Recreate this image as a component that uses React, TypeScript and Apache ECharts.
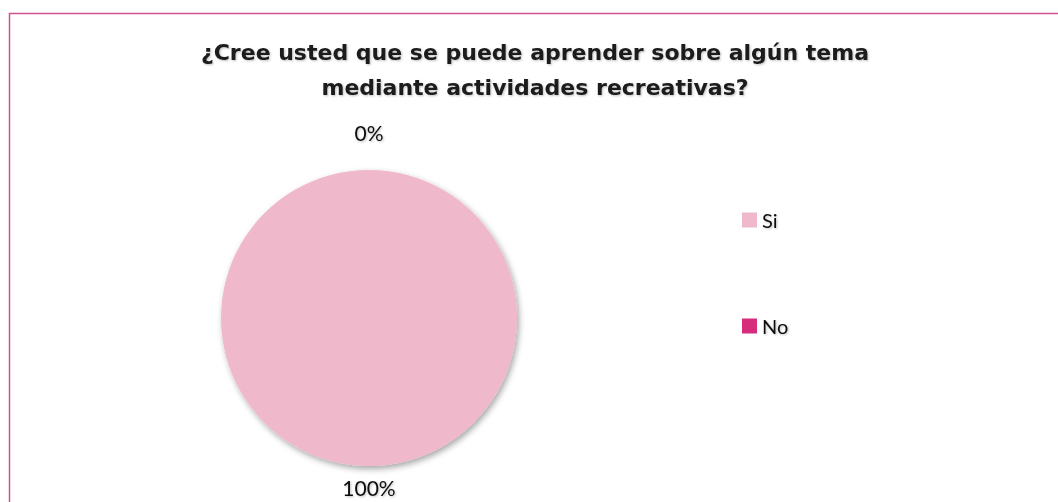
import React, { useEffect, useRef } from "react";
import * as echarts from "echarts";

const titleLines = [
  "¿Cree usted que se puede aprender sobre algún tema",
  "mediante actividades recreativas?",
];
const categories = ["Si", "No"];
const values = [100, 0];
const colors = ["#F0B8CB", "#D62C7B"];

export default function App() {
  const ref = useRef<HTMLDivElement>(null);
  useEffect(() => {
    if (!ref.current) return;
    const chart = echarts.init(ref.current, undefined, { renderer: "svg" });
    const total = values.reduce((a, b) => a + b, 0);
    chart.setOption({
      animation: false,
      backgroundColor: "#ffffff",
      title: {
        text: titleLines.join("\n"),
        left: 530,
        textAlign: "center",
        top: 30,
        textStyle: {
          fontFamily: "DejaVu Sans",
          fontWeight: "bold",
          fontSize: 22,
          lineHeight: 35,
          color: "#1a1a1a",
          textShadowColor: "rgba(0,0,0,0.25)",
          textShadowBlur: 2,
          textShadowOffsetX: 1,
          textShadowOffsetY: 1,
        },
      },
      legend: {
        orient: "vertical",
        left: 737,
        top: 205,
        itemGap: 86,
        itemWidth: 15,
        itemHeight: 15,
        icon: "rect",
        data: categories,
        textStyle: {
          fontFamily: "Lato",
          fontSize: 20,
          color: "#111",
          textShadowColor: "rgba(0,0,0,0.25)",
          textShadowBlur: 2,
          textShadowOffsetX: 1,
          textShadowOffsetY: 1,
        },
      },
      graphic: [
        {
          type: "rect",
          shape: { x: 9.5, y: 13.5, width: 1200, height: 700 },
          style: { fill: "none", stroke: "#D2528E", lineWidth: 1.5 },
          silent: true,
        },
      ],
      series: [
        {
          type: "pie",
          center: [369, 318],
          radius: 148,
          startAngle: 90,
          clockwise: true,
          stillShowZeroSum: true,
          avoidLabelOverlap: false,
          data: categories.map((c, i) => ({
            name: c,
            value: values[i],
            itemStyle: { color: colors[i] },
          })),
          itemStyle: {
            shadowColor: "rgba(0,0,0,0.35)",
            shadowBlur: 6,
            shadowOffsetX: 2,
            shadowOffsetY: 3,
          },
          label: {
            show: true,
            position: "outside",
            formatter: (p: any) => Math.round((p.value / total) * 100) + "%",
            fontFamily: "Lato",
            fontSize: 21,
            color: "#111",
            textShadowColor: "rgba(0,0,0,0.25)",
            textShadowBlur: 2,
            textShadowOffsetX: 1,
            textShadowOffsetY: 1,
          },
          labelLine: { show: false, length: 12, length2: 0 },
          labelLayout: (p: any) => {
            const r = p.labelRect;
            const cy = r.y + r.height / 2;
            const isTop = cy < 318;
            return {
              x: 369,
              y: isTop ? 132 : 487,
              align: "center",
              verticalAlign: "middle",
            };
          },
        },
      ],
    });
    return () => chart.dispose();
  }, []);
  return (
    <div
      ref={ref}
      style={{ position: "fixed", left: 0, top: 0, width: 1058, height: 502 }}
    />
  );
}
